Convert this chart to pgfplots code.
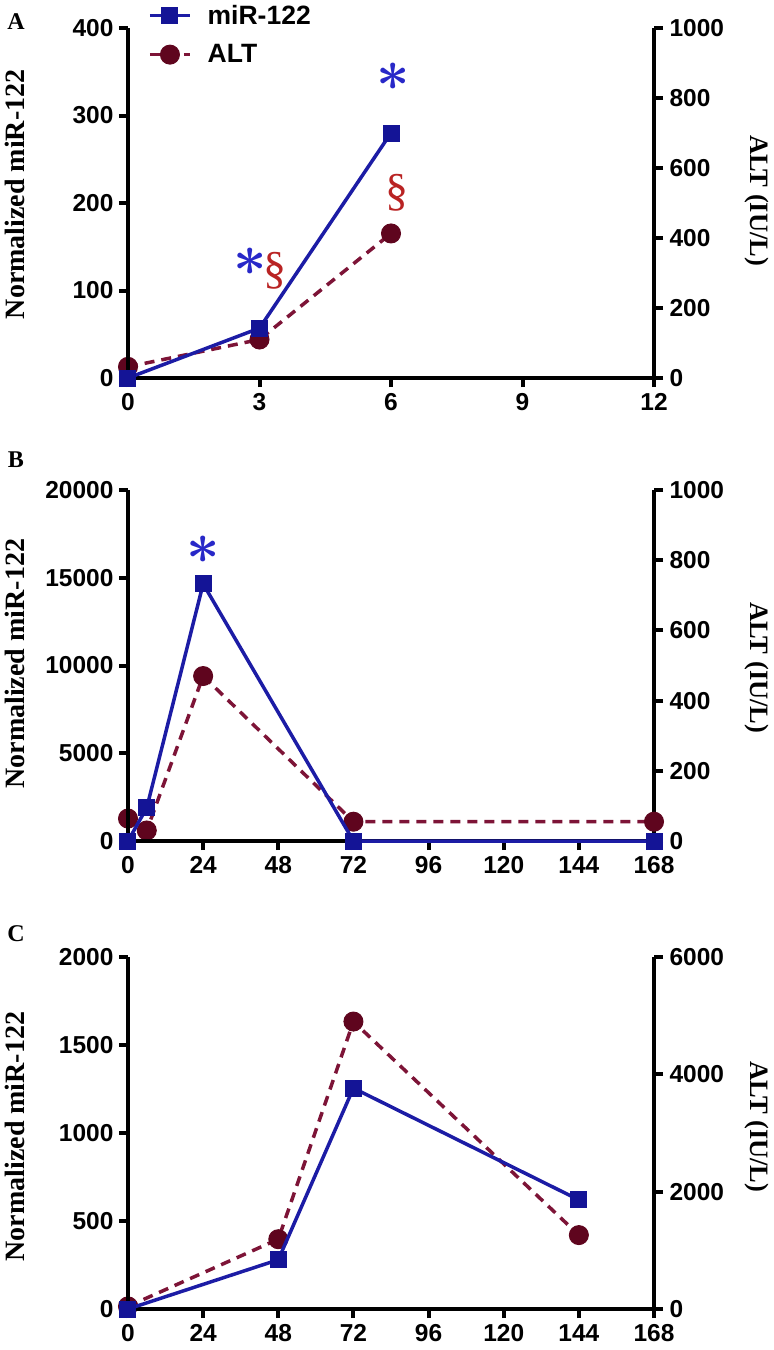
\documentclass[border=0pt]{standalone}
\usepackage{pgfplots}
\pgfplotsset{compat=1.18}
\usepackage{fontspec}
\setmainfont{Liberation Serif}
\setsansfont{Liberation Sans}
\usepackage{graphicx}
\definecolor{mirblue}{RGB}{28,28,165}
\definecolor{mirmark}{RGB}{20,20,150}
\definecolor{altred}{RGB}{125,20,55}
\definecolor{altmark}{RGB}{95,5,30}
\definecolor{starblue}{RGB}{40,40,200}
\definecolor{secred}{RGB}{185,35,35}

\pgfplotsset{
  basepanel/.style={
    scale only axis, width=526pt, clip=false,
    tick align=outside, major tick length=9pt,
    axis line style={line width=4pt},
    tick style={line width=4pt, black},
    ticklabel style={font=\sffamily\bfseries\fontsize{24.5}{24.5}\selectfont},
    xticklabel style={yshift=-3pt},
    /pgf/number format/assume math mode=true,
    /pgf/number format/1000 sep={},
  },
  mirstyle/.style={color=mirblue, line width=3.5pt, mark=square*, mark size=8pt,
    mark options={solid, fill=mirmark, draw=mirmark, line width=1pt}},
  altstyle/.style={color=altred, line width=3.5pt, dash pattern=on 10pt off 7pt, mark=*, mark size=9.5pt,
    mark options={solid, fill=altmark, draw=altmark, line width=1pt}},
  leftlab/.style={yticklabel style={xshift=-2pt},
    every axis y label/.style={at={(axis description cs:-0.2148,#1)}, rotate=90, anchor=center,
    font=\bfseries\fontsize{28}{28}\selectfont}},
  rightlab/.style={yticklabel style={xshift=3pt},
    every axis y label/.style={at={(axis description cs:1.196,#1)}, rotate=-90, anchor=center,
    font=\bfseries\fontsize{26.5}{26.5}\selectfont}},
}
\newcommand{\blueast}{\scalebox{2.8}{\fontsize{20}{20}\selectfont\boldmath$\ast$}}
\newcommand{\redsec}{\fontsize{46}{46}\selectfont §}

\begin{document}
\begin{tikzpicture}
\useasboundingbox (0,0) rectangle (774pt,-1350pt);

% ---------------- Panel A ----------------
\begin{axis}[basepanel, at={(128pt,-378pt)}, anchor=south west, height=350pt,
  axis x line=none, axis y line*=right,
  xmin=0, xmax=12, ymin=0, ymax=1000, ytick={0,200,400,600,800,1000},
  ylabel={ALT (IU/L)}, rightlab=0.506]
\addplot[altstyle] coordinates {(0,32) (3,110) (6,413)};
\end{axis}
\begin{axis}[basepanel, at={(128pt,-378pt)}, anchor=south west, height=350pt,
  axis x line*=bottom, axis y line*=left,
  xmin=0, xmax=12, xtick={0,3,6,9,12},
  ymin=0, ymax=400, ytick={0,100,200,300,400},
  ylabel={Normalized miR-122}, leftlab=0.525,
  legend style={at={(axis description cs:0.038,1.069)}, anchor=north west, draw=none, fill=none,
    font=\sffamily\bfseries\fontsize{26.5}{26.5}\selectfont, row sep=17pt, inner sep=0pt,
    nodes={inner sep=1pt}, /tikz/every odd column/.append style={column sep=15pt}},
  legend cell align=left,
  legend image code/.code={\draw[mark repeat=2,mark phase=2,#1] plot coordinates {(0pt,0pt) (20pt,0pt) (40pt,0pt)};}]
\addplot[mirstyle] coordinates {(0,0) (3,57) (6,280)};
\addlegendentry{miR-122}
\addlegendimage{altstyle}
\addlegendentry{ALT}
\node[text=starblue, inner sep=0pt] at (axis cs:6.05,344) {\blueast};
\node[text=secred, inner sep=0pt] at (axis cs:6.14,212) {\redsec};
\node[text=starblue, inner sep=0pt] at (axis cs:2.78,133) {\blueast};
\node[text=secred, inner sep=0pt] at (axis cs:3.35,123) {\redsec};
\end{axis}

% ---------------- Panel B ----------------
\begin{axis}[basepanel, at={(128pt,-841pt)}, anchor=south west, height=351pt,
  axis x line=none, axis y line*=right,
  xmin=0, xmax=168, ymin=0, ymax=1000, ytick={0,200,400,600,800,1000},
  ylabel={ALT (IU/L)}, rightlab=0.493]
\addplot[altstyle] coordinates {(0,64) (6,30) (24,470) (72,55) (168,55)};
\end{axis}
\begin{axis}[basepanel, at={(128pt,-841pt)}, anchor=south west, height=351pt,
  axis x line*=bottom, axis y line*=left,
  xmin=0, xmax=168, xtick={0,24,48,72,96,120,144,168},
  ymin=0, ymax=20000, ytick={0,5000,10000,15000,20000},
  scaled y ticks=false,
  ylabel={Normalized miR-122}, leftlab=0.505]
\addplot[mirstyle] coordinates {(0,0) (6,1900) (24,14650) (72,0) (168,0)};
\node[text=starblue, inner sep=0pt] at (axis cs:24.1,16580) {\blueast};
\end{axis}

% ---------------- Panel C ----------------
\begin{axis}[basepanel, at={(128pt,-1309pt)}, anchor=south west, height=352pt,
  axis x line=none, axis y line*=right,
  xmin=0, xmax=168, ymin=0, ymax=6000, ytick={0,2000,4000,6000},
  scaled y ticks=false,
  ylabel={ALT (IU/L)}, rightlab=0.517]
\addplot[altstyle] coordinates {(0,45) (48,1190) (72,4900) (144,1260)};
\end{axis}
\begin{axis}[basepanel, at={(128pt,-1309pt)}, anchor=south west, height=352pt,
  axis x line*=bottom, axis y line*=left,
  xmin=0, xmax=168, xtick={0,24,48,72,96,120,144,168},
  ymin=0, ymax=2000, ytick={0,500,1000,1500,2000},
  ylabel={Normalized miR-122}, leftlab=0.49]
\addplot[mirstyle] coordinates {(0,0) (48,280) (72,1255) (144,620)};
\end{axis}

% panel letters
\node[font=\bfseries\fontsize{24}{24}\selectfont] at (16pt,-22pt) {A};
\node[font=\bfseries\fontsize{24}{24}\selectfont] at (16pt,-460pt) {B};
\node[font=\bfseries\fontsize{24}{24}\selectfont] at (16pt,-934pt) {C};
\end{tikzpicture}
\end{document}
